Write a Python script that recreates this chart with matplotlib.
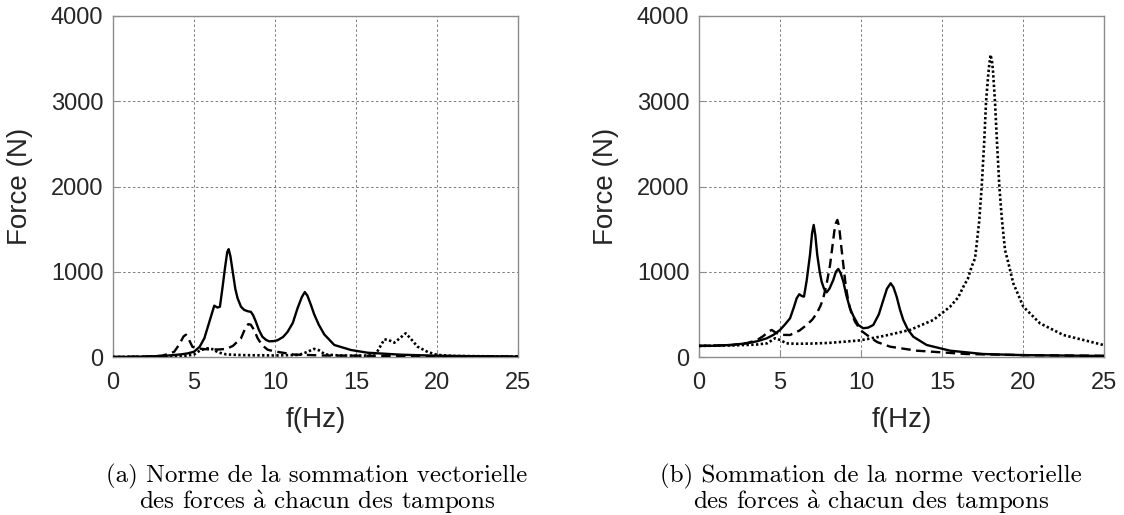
import matplotlib
matplotlib.use("Agg")
import matplotlib.pyplot as plt

plt.rcParams["mathtext.fontset"] = "cm"

# ---------------- data ----------------
# (a) left panel
a_solid_f = [0, 2, 3, 3.6, 4.2, 4.6, 5.0, 5.35, 5.64, 6.04, 6.25, 6.45, 6.6, 6.75, 6.91, 7.05, 7.14,
             7.25, 7.39, 7.55, 7.69, 7.9, 8.1, 8.35, 8.51, 8.65, 8.82, 9.0, 9.22, 9.45, 9.64, 9.9,
             10.15, 10.5, 10.77, 11.1, 11.39, 11.65, 11.84, 12.0, 12.2, 12.42, 12.7, 13.04, 13.66,
             14.69, 15.72, 17.78, 19.8, 22, 25]
a_solid_F = [0, 5, 12, 20, 31, 42, 62, 120, 220, 470, 602, 580, 590, 800, 1041, 1230, 1265,
             1180, 1001, 800, 689, 590, 552, 535, 530, 490, 414, 320, 238, 200, 184, 186,
             196, 235, 293, 400, 571, 700, 762, 720, 620, 500, 380, 265, 141,
             82, 50, 27, 16, 10, 5]

a_dash_f = [0, 2, 3.0, 3.5, 3.78, 4.1, 4.35, 4.5, 4.65, 4.9, 5.2, 5.8, 6.5, 7.0, 7.4, 7.9, 8.15,
            8.35, 8.5, 8.7, 8.93, 9.2, 9.55, 10.0, 11.2, 13, 16, 20, 25]
a_dash_F = [0, 5, 15, 40, 62, 150, 240, 262, 220, 120, 100, 90, 88, 95, 130, 219, 330,
            385, 380, 320, 219, 140, 85, 65, 28, 18, 14, 10, 6]

a_dot_f = [0, 3, 4.5, 5.0, 5.4, 5.84, 6.2, 6.46, 7.0, 8, 10, 11.5, 12.0, 12.4, 12.7, 13.1, 14,
           15.5, 16.0, 16.3, 16.75, 17.0, 17.37, 17.7, 18.07, 18.4, 18.8, 19.43, 20, 21, 25]
a_dot_F = [0, 5, 15, 30, 80, 102, 90, 55, 30, 22, 18, 25, 60, 95, 80, 30, 18,
           15, 30, 59, 207, 200, 168, 220, 278, 210, 121, 59, 25, 12, 5]

# (b) right panel
b_solid_f = [0, 1, 2, 2.94, 3.6, 4.18, 4.6, 5.0, 5.3, 5.62, 5.85, 6.03, 6.19, 6.35, 6.48, 6.65,
             6.85, 6.98, 7.08, 7.18, 7.3, 7.45, 7.57, 7.72, 7.88, 8.05, 8.29, 8.45, 8.6, 8.75,
             8.91, 9.1, 9.32, 9.53, 9.83, 10.14, 10.45, 10.76, 11.1, 11.38, 11.6, 11.83, 12.0,
             12.2, 12.4, 12.61, 12.9, 13.23, 14.05, 15.5, 17.55, 20, 25]
b_solid_F = [130, 132, 142, 160, 185, 219, 260, 317, 380, 454, 580, 689, 736, 715, 708, 900,
             1197, 1450, 1549, 1430, 1197, 1000, 884, 800, 759, 800, 904, 1000, 1033, 980,
             884, 720, 571, 480, 376, 337, 345, 376, 500, 669, 800, 865, 820,
             708, 560, 434, 320, 238, 141, 74, 35, 22, 12]

b_dash_f = [0, 2, 3.0, 3.6, 4.0, 4.3, 4.49, 4.7, 5.0, 5.62, 6.2, 6.65, 7.0, 7.27, 7.5, 7.67,
            7.9, 8.09, 8.25, 8.35, 8.45, 8.54, 8.65, 8.78, 8.91, 9.05, 9.22, 9.4, 9.63, 10.0,
            10.56, 11.0, 11.8, 13.44, 16.5, 20, 25]
b_dash_F = [130, 140, 165, 200, 250, 300, 317, 290, 260, 258, 310, 376, 440, 513, 600, 689,
            880, 1080, 1320, 1471, 1570, 1608, 1530, 1300, 1080, 850, 649, 520, 414, 310,
            231, 175, 121, 74, 35, 22, 14]

b_dot_f = [0, 2, 3.5, 4.2, 4.7, 5.0, 5.4, 6.0, 7.0, 8.0, 9.0, 9.94, 11.38, 13.02, 14.46, 15.5,
           16.0, 16.32, 16.6, 16.83, 17.04, 17.1, 17.3, 17.45, 17.6, 17.72, 17.85, 17.9, 18.0,
           18.1, 18.15, 18.27, 18.4, 18.54, 18.7, 18.89, 19.1, 19.4, 20.02, 21.05, 22.49, 24.96]
b_dot_F = [130, 135, 145, 160, 220, 200, 160, 155, 158, 165, 180, 195, 246, 317, 434, 590,
           700, 825, 920, 1060, 1158, 1256, 1600, 1999, 2500, 2997, 3300, 3400, 3545,
           3450, 3350, 2997, 2500, 2000, 1608, 1256, 1100, 865, 590, 395, 258, 141]

x_ticks = [0, 5, 10, 15, 20, 25]
y_ticks = [0, 1000, 2000, 3000, 4000]
x_label = "f(Hz)"
y_label = "Force (N)"
captions = ["(a) Norme de la sommation vectorielle\ndes forces $\\mathrm{\\grave{a}}$ chacun des tampons",
            "(b) Sommation de la norme vectorielle\ndes forces $\\mathrm{\\grave{a}}$ chacun des tampons"]

# ---------------- figure ----------------
W, H = 1124, 515
fig = plt.figure(figsize=(W / 100, H / 100), dpi=100)
fig.patch.set_facecolor("white")

sans = ["Liberation Sans", "DejaVu Sans"]
serif = ["cmr10", "DejaVu Serif"]

ax_rects = [(113 / W, 1 - 357 / H, 405 / W, 341 / H),
            (699 / W, 1 - 357 / H, 405 / W, 341 / H)]
panels = [
    (a_solid_f, a_solid_F, a_dash_f, a_dash_F, a_dot_f, a_dot_F),
    (b_solid_f, b_solid_F, b_dash_f, b_dash_F, b_dot_f, b_dot_F),
]
caption_x = [317 / W, 871 / W]

for rect, data, cx, cap in zip(ax_rects, panels, caption_x, captions):
    ax = fig.add_axes(rect)
    sf, sF, df, dF, of, oF = data
    ax.plot(sf, sF, color="black", lw=1.7, solid_joinstyle="round", zorder=3)
    ax.plot(df, dF, color="black", lw=1.7, dashes=(4.0, 2.3), zorder=3)
    ax.plot(of, oF, color="black", lw=1.9, dashes=(0.9, 0.9), zorder=3)

    ax.set_xlim(0, 25)
    ax.set_ylim(0, 4000)
    ax.set_xticks(x_ticks)
    ax.set_yticks(y_ticks)
    ax.grid(True, color="#7a7a7a", lw=0.7, dashes=(2.5, 2.5))
    ax.set_axisbelow(True)
    for s in ax.spines.values():
        s.set_color("#8c8c8c")
        s.set_linewidth(1.0)
    ax.tick_params(direction="in", length=5, width=0.8, color="#8c8c8c",
                   labelsize=17, labelcolor="#262626", pad=7,
                   top=False, right=False)
    ax.tick_params(axis="x", pad=11)
    for lab in ax.get_xticklabels() + ax.get_yticklabels():
        lab.set_family(sans)
    ax.set_xlabel(x_label, fontsize=20, family=sans, color="#262626")
    ax.set_ylabel(y_label, fontsize=20, family=sans, color="#262626")
    ax.xaxis.set_label_coords(0.5, -0.147)
    ax.yaxis.set_label_coords(-0.197, 0.5)

    fig.text(cx, 1 - 490 / H, cap, ha="center", va="center", fontsize=18,
             family=serif, linespacing=0.98)

fig.savefig("out.png", dpi=100)
